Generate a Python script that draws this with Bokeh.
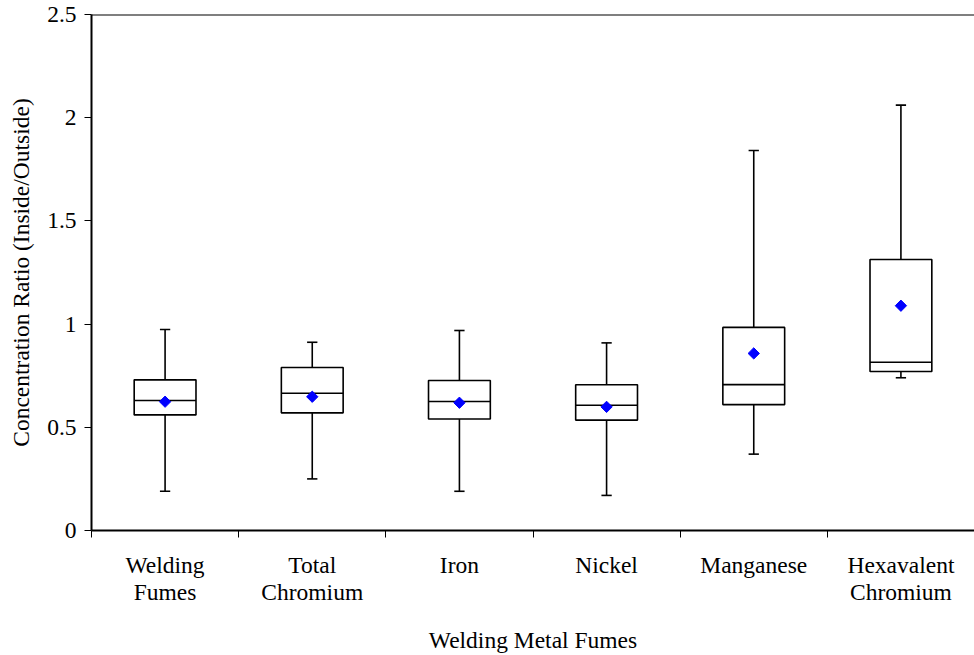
import numpy as np
from bokeh.plotting import figure
from bokeh.models import Range1d, FixedTicker, LinearAxis, Span, ColumnDataSource
from bokeh.embed import file_html
from bokeh.resources import INLINE

# Box-plot statistics per fume component (inside/outside concentration ratio)
categories = ["Welding\nFumes", "Total\nChromium", "Iron", "Nickel", "Manganese", "Hexavalent\nChromium"]
whisker_low = [0.19, 0.25, 0.19, 0.17, 0.37, 0.74]
q1 = [0.56, 0.57, 0.54, 0.535, 0.61, 0.77]
median = [0.63, 0.665, 0.625, 0.607, 0.707, 0.815]
q3 = [0.73, 0.79, 0.727, 0.706, 0.984, 1.313]
whisker_high = [0.974, 0.912, 0.969, 0.909, 1.841, 2.061]
mean = [0.624, 0.648, 0.619, 0.599, 0.858, 1.089]

y_ticks = [0, 0.5, 1, 1.5, 2, 2.5]
y_tick_labels = ["0", "0.5", "1", "1.5", "2", "2.5"]

FONT = "Liberation Serif"
FS = "23.5px"

n = len(categories)
x = np.arange(n) + 0.5
box_w = 0.42
cap_w = 0.07

src = ColumnDataSource(dict(
    x=x, lo=whisker_low, q1=q1, med=median, q3=q3, hi=whisker_high, mean=mean,
    xl=x - box_w / 2, xr=x + box_w / 2, cl=x - cap_w / 2, cr=x + cap_w / 2,
))

p = figure(width=974, height=655, output_backend="svg", toolbar_location=None,
           x_range=Range1d(0, n), y_range=Range1d(0, 2.5),
           x_axis_type=None, y_axis_type=None,
           min_border_left=91, min_border_right=0, min_border_top=14, min_border_bottom=120)
p.outline_line_color = None
p.grid.visible = False
p.background_fill_color = "white"
p.border_fill_color = "white"

# Top frame line
p.add_layout(Span(location=2.5, dimension="width", line_color="black", line_width=2))

# Y axis
yax = LinearAxis(ticker=FixedTicker(ticks=y_ticks),
                 major_label_overrides={t: l for t, l in zip(y_ticks, y_tick_labels)})
yax.axis_line_width = 2
yax.axis_line_color = "black"
yax.major_tick_in = 0
yax.major_tick_out = 7
yax.minor_tick_line_color = None
yax.major_label_text_font = FONT
yax.major_label_text_font_size = FS
yax.major_label_text_color = "black"
yax.major_label_standoff = 8
yax.axis_label = "Concentration Ratio (Inside/Outside)"
yax.axis_label_text_font = FONT
yax.axis_label_text_font_size = FS
yax.axis_label_text_font_style = "normal"
yax.axis_label_text_color = "black"
yax.axis_label_standoff = 10
p.add_layout(yax, "left")

# X axis line with ticks at category boundaries
xax = LinearAxis(ticker=FixedTicker(ticks=list(range(n + 1))),
                 major_label_overrides={i: "" for i in range(n + 1)})
xax.axis_line_width = 2
xax.axis_line_color = "black"
xax.major_tick_in = 0
xax.major_tick_out = 7
xax.minor_tick_line_color = None
xax.major_label_text_font_size = "1px"
xax.major_label_standoff = 0
p.add_layout(xax, "below")

# Category labels at the centres
lax = LinearAxis(ticker=FixedTicker(ticks=list(x)),
                 major_label_overrides={float(v): c for v, c in zip(x, categories)})
lax.axis_line_color = None
lax.major_tick_line_color = None
lax.minor_tick_line_color = None
lax.major_label_text_font = FONT
lax.major_label_text_font_size = FS
lax.major_label_text_color = "black"
lax.major_label_text_line_height = 1.05
lax.major_label_standoff = 8
lax.axis_label = "Welding Metal Fumes"
lax.axis_label_text_font = FONT
lax.axis_label_text_font_size = FS
lax.axis_label_text_font_style = "normal"
lax.axis_label_text_color = "black"
lax.axis_label_standoff = 19
p.add_layout(lax, "below")

LW = 1.6
# Whiskers
p.segment(x0="x", y0="q3", x1="x", y1="hi", source=src, line_color="black", line_width=LW)
p.segment(x0="x", y0="lo", x1="x", y1="q1", source=src, line_color="black", line_width=LW)
# Caps
p.segment(x0="cl", y0="hi", x1="cr", y1="hi", source=src, line_color="black", line_width=LW)
p.segment(x0="cl", y0="lo", x1="cr", y1="lo", source=src, line_color="black", line_width=LW)
# Boxes
p.quad(left="xl", right="xr", bottom="q1", top="q3", source=src,
       fill_color="white", line_color="black", line_width=LW)
# Medians
p.segment(x0="xl", y0="med", x1="xr", y1="med", source=src, line_color="black", line_width=LW)
# Means
p.scatter(x="x", y="mean", source=src, marker="square", angle=np.pi / 4, size=8,
          fill_color="#0000FF", line_color="#0000FF")

open("out.html", "w").write(file_html(p, INLINE))
